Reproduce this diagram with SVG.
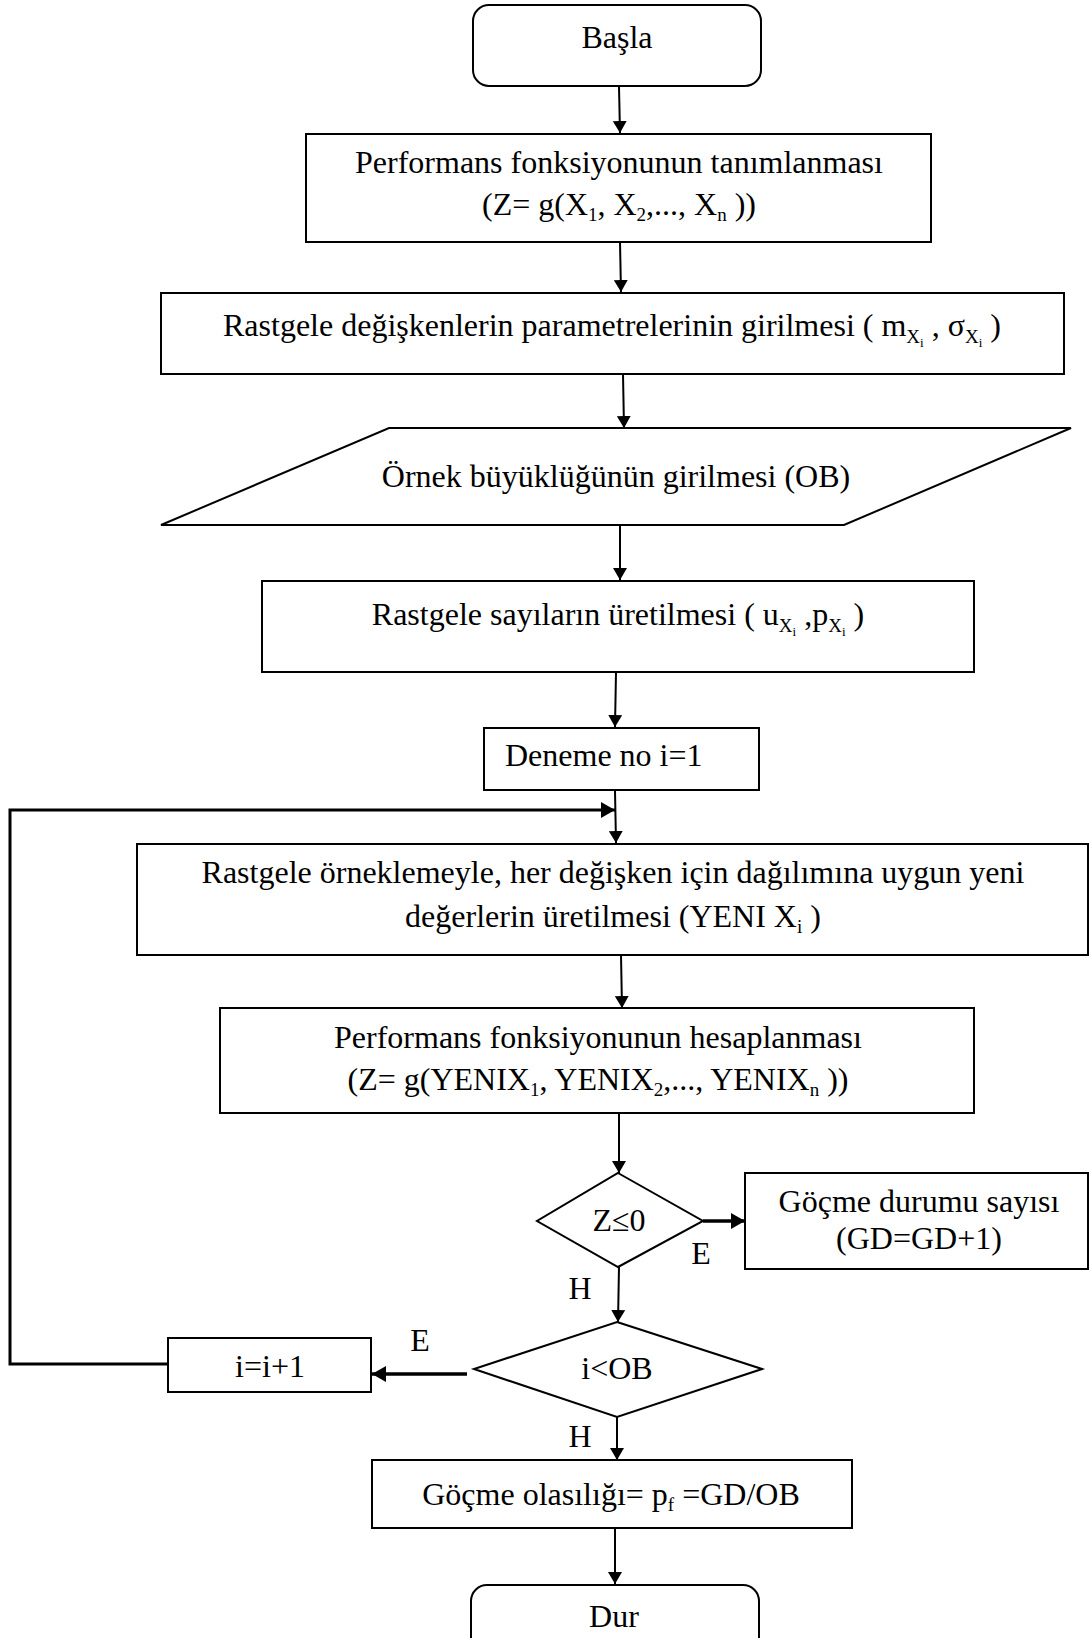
<svg xmlns="http://www.w3.org/2000/svg" width="1089" height="1638" viewBox="0 0 1089 1638">
<style>
.s{fill:#fff;stroke:#000;stroke-width:2}
.t{font-family:"Liberation Serif","Times New Roman",serif;font-size:32px;fill:#000}
.m{text-anchor:middle}
.c{fill:none;stroke:#000;stroke-width:2}
.k{fill:none;stroke:#000;stroke-width:3.5}
</style>
<defs>
<marker id="a" markerWidth="12" markerHeight="14" refX="12" refY="7" orient="auto" markerUnits="userSpaceOnUse"><path d="M0,0 L12,7 L0,14 Z" fill="#000"/></marker>
<marker id="b" markerWidth="14" markerHeight="16" refX="14" refY="8" orient="auto" markerUnits="userSpaceOnUse"><path d="M0,0 L14,8 L0,16 Z" fill="#000"/></marker>
</defs>
<rect width="1089" height="1638" fill="#fff"/>
<g id="connectors">
<line class="c" x1="619" y1="87" x2="620" y2="133" marker-end="url(#a)"/>
<line class="c" x1="620" y1="242" x2="621" y2="292" marker-end="url(#a)"/>
<line class="c" x1="623" y1="374" x2="624" y2="428" marker-end="url(#a)"/>
<line class="c" x1="620" y1="525" x2="620" y2="580" marker-end="url(#a)"/>
<line class="c" x1="616" y1="672" x2="615" y2="727" marker-end="url(#a)"/>
<line class="c" x1="615" y1="791" x2="616" y2="843" marker-end="url(#a)"/>
<line class="c" x1="621" y1="955" x2="622" y2="1008" marker-end="url(#a)"/>
<line class="c" x1="619" y1="1113" x2="619" y2="1173" marker-end="url(#a)"/>
<line class="k" x1="703" y1="1221" x2="745" y2="1221" marker-end="url(#b)"/>
<line class="c" x1="619" y1="1267" x2="618" y2="1322" marker-end="url(#a)"/>
<line class="k" x1="467" y1="1374" x2="372" y2="1374" marker-end="url(#b)"/>
<polyline class="k" points="169,1364 10,1364 10,810 615,810" marker-end="url(#b)" style="stroke-width:3"/>
<line class="c" x1="617" y1="1417" x2="617" y2="1460" marker-end="url(#a)"/>
<line class="c" x1="615" y1="1528" x2="615" y2="1584" marker-end="url(#a)"/>
</g>
<g id="n-basla">
<rect class="s" x="473" y="5" width="288" height="81" rx="16"/>
<text class="t m" x="617" y="48">Başla</text>
</g>
<g id="n-perf">
<rect class="s" x="306" y="134" width="625" height="108"/>
<text class="t m" x="619" y="173">Performans  fonksiyonunun tanımlanması</text>
<text class="t m" x="619" y="215">(Z= g(X<tspan font-size="19" dy="6">1</tspan><tspan dy="-6">, X</tspan><tspan font-size="19" dy="6">2</tspan><tspan dy="-6">,..., X</tspan><tspan font-size="19" dy="6">n</tspan><tspan dy="-6"> ))</tspan></text>
</g>
<g id="n-param">
<rect class="s" x="161" y="293" width="903" height="81"/>
<text class="t m" x="612" y="336">Rastgele değişkenlerin parametrelerinin girilmesi  ( m<tspan font-size="19" dy="7">X</tspan><tspan font-size="13" dy="4">i</tspan><tspan dy="-11"> , σ</tspan><tspan font-size="19" dy="7">X</tspan><tspan font-size="13" dy="4">i</tspan><tspan dy="-11"> )</tspan></text>
</g>
<g id="n-ornek">
<polygon class="s" points="389,428 1071,428 844,525 161,525"/>
<text class="t m" x="616" y="487">Örnek büyüklüğünün girilmesi (OB)</text>
</g>
<g id="n-sayi">
<rect class="s" x="262" y="581" width="712" height="91"/>
<text class="t m" x="618" y="625">Rastgele sayıların üretilmesi ( u<tspan font-size="19" dy="7">X</tspan><tspan font-size="13" dy="4">i</tspan><tspan dy="-11"> ,p</tspan><tspan font-size="19" dy="7">X</tspan><tspan font-size="13" dy="4">i</tspan><tspan dy="-11"> )</tspan></text>
</g>
<g id="n-deneme">
<rect class="s" x="484" y="728" width="275" height="62"/>
<text class="t" x="505" y="766">Deneme no i=1</text>
</g>
<g id="n-yeni">
<rect class="s" x="137" y="844" width="951" height="111"/>
<text class="t m" x="613" y="883">Rastgele örneklemeyle, her değişken için dağılımına uygun yeni</text>
<text class="t m" x="613" y="927">değerlerin üretilmesi (YENI X<tspan font-size="19" dy="6">i</tspan><tspan dy="-6"> )</tspan></text>
</g>
<g id="n-hesap">
<rect class="s" x="220" y="1008" width="754" height="105"/>
<text class="t m" x="598" y="1048">Performans fonksiyonunun hesaplanması</text>
<text class="t m" x="598" y="1090">(Z= g(YENIX<tspan font-size="19" dy="6">1</tspan><tspan dy="-6">, YENIX</tspan><tspan font-size="19" dy="6">2</tspan><tspan dy="-6">,..., YENIX</tspan><tspan font-size="19" dy="6">n</tspan><tspan dy="-6"> ))</tspan></text>
</g>
<g id="n-z">
<polygon class="s" points="618,1173 703,1221 618,1267 537,1221"/>
<text class="t m" x="619" y="1231">Z≤0</text>
</g>
<g id="n-gd">
<rect class="s" x="745" y="1173" width="343" height="96"/>
<text class="t m" x="919" y="1212">Göçme durumu sayısı</text>
<text class="t m" x="919" y="1249">(GD=GD+1)</text>
</g>
<g id="n-iob">
<polygon class="s" points="617,1322 762,1369 617,1417 474,1369"/>
<text class="t m" x="617" y="1379">i&lt;OB</text>
</g>
<g id="n-inc">
<rect class="s" x="168" y="1338" width="203" height="54"/>
<text class="t m" x="270" y="1377">i=i+1</text>
</g>
<g id="n-pf">
<rect class="s" x="372" y="1460" width="480" height="68"/>
<text class="t m" x="611" y="1505">Göçme olasılığı= p<tspan font-size="19" dy="6">f</tspan><tspan dy="-6"> =GD/OB</tspan></text>
</g>
<g id="n-dur">
<rect class="s" x="471" y="1585" width="288" height="70" rx="16"/>
<text class="t m" x="614" y="1627">Dur</text>
</g>
<g id="labels">
<text class="t m" x="701" y="1264">E</text>
<text class="t m" x="580" y="1299">H</text>
<text class="t m" x="420" y="1351">E</text>
<text class="t m" x="580" y="1447">H</text>
</g>
</svg>
